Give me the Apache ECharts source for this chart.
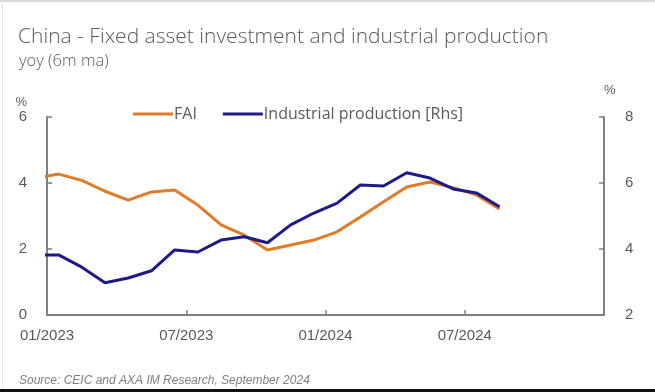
<!DOCTYPE html>
<html>
<head>
<meta charset="utf-8">
<script src="https://cdn.jsdelivr.net/npm/echarts@6/dist/echarts.min.js"></script>
<style>
html,body{margin:0;padding:0;background:#fff;}
#chart{width:655px;height:392px;}
</style>
</head>
<body>
<div id="chart"></div>
<script>
// Months: Dec 2022 (clipped at the axis) through Aug 2024
const months = ['12/2022','01/2023','02/2023','03/2023','04/2023','05/2023','06/2023','07/2023','08/2023','09/2023','10/2023','11/2023','12/2023',
                '01/2024','02/2024','03/2024','04/2024','05/2024','06/2024','07/2024','08/2024'];
const fai = [4.15,4.27,4.08,3.75,3.48,3.73,3.79,3.33,2.73,2.42,1.97,2.12,2.27,
             2.52,2.97,3.43,3.88,4.03,3.86,3.64,3.21];
const industrialProduction = [3.82,3.82,3.45,2.98,3.12,3.34,3.97,3.91,4.27,4.37,4.19,4.73,5.09,
                              5.39,5.94,5.91,6.31,6.15,5.82,5.70,5.28];
const xTickLabels = ['01/2023','07/2023','01/2024','07/2024',''];
const leftTicks = [0,2,4,6];
const rightTicks = [2,4,6,8];

// x position: months since Jan 2023, plotted mid-month
const xPos = months.map((m, i) => i - 1 + 0.5);

const axisGray = '#7f7f7f';
const textGray = '#595959';
const fontFam = '"Open Sans", "Liberation Sans", sans-serif';
const axisFont = '"Liberation Sans", "DejaVu Sans", sans-serif';

const chart = echarts.init(document.getElementById('chart'), null, {renderer: 'canvas'});
chart.setOption({
  animation: false,
  backgroundColor: '#ffffff',
  title: [
    {text: 'China - Fixed asset investment and industrial production', left: 13, top: 22,
     textStyle: {fontFamily: fontFam, fontSize: 21, fontWeight: 300, color: textGray}},
    {text: 'yoy (6m ma)', left: 14, top: 48,
     textStyle: {fontFamily: fontFam, fontSize: 16.5, fontWeight: 300, color: textGray}},
    {text: 'Source: CEIC and AXA IM Research, September 2024', left: 14, top: 370,
     textStyle: {fontFamily: axisFont, fontSize: 12, fontWeight: 'normal', fontStyle: 'italic', color: '#7f7f7f'}}
  ],
  legend: {
    left: 128, top: 101, itemWidth: 40, itemHeight: 3, itemGap: 26,
    icon: 'rect',
    textStyle: {fontFamily: fontFam, fontSize: 16, color: textGray, padding: [0,0,0,-4]},
    data: ['FAI', 'Industrial production [Rhs]']
  },
  grid: {left: 47, right: 51, top: 117, bottom: 77},
  xAxis: {
    type: 'value', min: 0, max: 24, interval: 6,
    axisLine: {show: true, onZero: false, lineStyle: {color: axisGray, width: 2}},
    axisTick: {show: true, inside: true, length: 5, lineStyle: {color: axisGray, width: 1.5}},
    splitLine: {show: false},
    axisLabel: {
      fontFamily: axisFont, fontSize: 15, color: textGray, margin: 13,
      formatter: v => xTickLabels[Math.round(v / 6)] || ''
    }
  },
  yAxis: [
    {
      type: 'value', min: 0, max: 6, interval: 2, position: 'left',
      name: '%', nameGap: 8, nameTextStyle: {fontFamily: axisFont, fontSize: 13, color: textGray, align: 'right', padding: [0, 20, 0, 0]},
      axisLine: {show: true, lineStyle: {color: axisGray, width: 2}},
      axisTick: {show: true, inside: true, length: 5, lineStyle: {color: axisGray, width: 1.5}},
      splitLine: {show: false},
      axisLabel: {fontFamily: axisFont, fontSize: 15, color: textGray, margin: 20,
                  formatter: v => leftTicks.includes(v) ? String(v) : ''}
    },
    {
      type: 'value', min: 2, max: 8, interval: 2, position: 'right',
      name: '%', nameGap: 20, nameTextStyle: {fontFamily: axisFont, fontSize: 13, color: textGray, align: 'left', padding: [0, 0, 0, 0]},
      axisLine: {show: true, lineStyle: {color: axisGray, width: 2}},
      axisTick: {show: true, inside: true, length: 5, lineStyle: {color: axisGray, width: 1.5}},
      splitLine: {show: false},
      axisLabel: {fontFamily: axisFont, fontSize: 15, color: textGray, margin: 21,
                  formatter: v => rightTicks.includes(v) ? String(v) : ''}
    }
  ],
  series: [
    {
      name: 'FAI', type: 'line', yAxisIndex: 0, clip: true,
      showSymbol: false, symbol: 'none',
      data: fai.map((v, i) => [xPos[i], v]),
      lineStyle: {color: '#E07B28', width: 3},
      itemStyle: {color: '#E07B28'}, z: 2
    },
    {
      name: 'Industrial production [Rhs]', type: 'line', yAxisIndex: 1, clip: true,
      showSymbol: false, symbol: 'none',
      data: industrialProduction.map((v, i) => [xPos[i], v]),
      lineStyle: {color: '#1F1A8A', width: 3},
      itemStyle: {color: '#1F1A8A'}, z: 3
    }
  ],
  graphic: [
    {type: 'rect', shape: {x: 0, y: 0, width: 655, height: 2}, style: {fill: '#d9d9d9'}, silent: true},
    {type: 'rect', shape: {x: 2, y: 0, width: 1, height: 389}, style: {fill: '#e6e6e6'}, silent: true},
    {type: 'rect', shape: {x: 0, y: 389, width: 655, height: 3}, style: {fill: '#111111'}, silent: true}
  ]
});
</script>
</body>
</html>
